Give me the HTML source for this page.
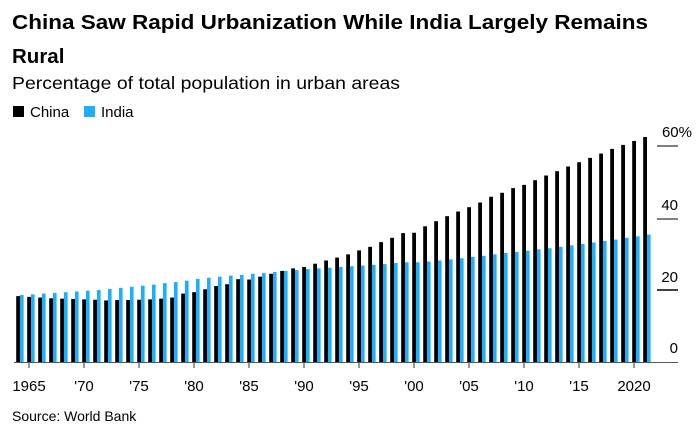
<!DOCTYPE html>
<html><head><meta charset="utf-8"><style>
body{margin:0;background:#fff;width:699px;height:442px;overflow:hidden}
svg{display:block;font-family:"Liberation Sans",Arial,sans-serif}
</style></head><body>
<svg id="s" width="699" height="442" xmlns="http://www.w3.org/2000/svg">
<text x="12" y="29" font-size="20.5" font-weight="bold" fill="#000" textLength="636" lengthAdjust="spacingAndGlyphs">China Saw Rapid Urbanization While India Largely Remains</text>
<text x="12" y="63" font-size="20.5" font-weight="bold" fill="#000">Rural</text>
<text x="12" y="89" font-size="17.5" fill="#000" textLength="388" lengthAdjust="spacingAndGlyphs">Percentage of total population in urban areas</text>
<rect x="13" y="106" width="11" height="11" fill="#000"/>
<text x="30" y="117" font-size="15" fill="#000">China</text>
<rect x="84" y="106" width="11" height="11" fill="#1ab0ff"/>
<text x="101" y="117" font-size="15" fill="#000">India</text>
<g font-size="15" fill="#000" text-anchor="end">
<text x="692" y="137">60%</text>
<text x="678" y="210">40</text>
<text x="678" y="282">20</text>
<text x="678" y="353">0</text>
</g>
<g stroke-width="1.5">
<line x1="657" x2="678" y1="146" y2="146" stroke="#555"/>
<line x1="657" x2="678" y1="219" y2="219" stroke="#555"/>
<line x1="657" x2="678" y1="290" y2="290" stroke="#000"/>
</g>
<g id="bars"></g>
<line x1="14" x2="678" y1="362.5" y2="362.5" stroke="#555" stroke-width="1"/>
<g id="ticks" stroke="#555" stroke-width="1.2"></g>
<g font-size="15" fill="#000" text-anchor="middle">
<text x="29" y="391">1965</text><text x="84" y="391">'70</text><text x="139" y="391">'75</text>
<text x="194" y="391">'80</text><text x="249" y="391">'85</text><text x="304" y="391">'90</text>
<text x="359" y="391">'95</text><text x="414" y="391">'00</text><text x="469" y="391">'05</text>
<text x="524" y="391">'10</text><text x="579" y="391">'15</text><text x="634" y="391">2020</text>
</g>
<text x="12" y="421" font-size="14" fill="#000">Source: World Bank</text>
</svg>
<script>
var c=[18.3,18.1,17.9,17.7,17.6,17.5,17.4,17.3,17.1,17.2,17.2,17.3,17.4,17.6,17.9,19.0,19.4,20.2,21.1,21.6,23.0,22.9,23.7,24.5,25.3,26.0,26.4,27.3,28.2,29.0,29.9,31.0,32.0,33.3,34.5,35.8,35.9,37.7,39.1,40.5,41.8,43.0,44.3,45.9,47.0,48.3,49.2,50.5,51.8,53.0,54.3,55.5,56.7,57.9,59.2,60.3,61.4,62.5];
var d=[18.6,18.8,19.0,19.2,19.4,19.6,19.8,20.0,20.3,20.6,20.9,21.2,21.5,21.9,22.2,22.6,23.1,23.4,23.7,24.0,24.2,24.5,24.7,25.0,25.3,25.5,25.8,26.0,26.2,26.4,26.6,26.8,27.0,27.2,27.5,27.7,27.7,27.9,28.2,28.5,28.8,29.2,29.5,29.9,30.3,30.6,30.9,31.3,31.6,32.0,32.4,32.8,33.2,33.6,34.0,34.5,34.9,35.4];
var g=document.getElementById('bars'),h='';
for(var i=0;i<c.length;i++){var x=29+(i-1)*11-1.8;
var hc=c[i]*3.6,hd=d[i]*3.6;
h+='<rect x="'+x+'" y="'+(362-hc)+'" width="3.8" height="'+hc+'" fill="#000"/>';
h+='<rect x="'+(x+3.8)+'" y="'+(362-hd)+'" width="3.6" height="'+hd+'" fill="#1ab0ff"/>';}
g.innerHTML=h;
var t='';for(var k=0;k<12;k++){var xx=29+k*55;t+='<line x1="'+xx+'" x2="'+xx+'" y1="362" y2="368"/>';}
document.getElementById('ticks').innerHTML=t;
</script>
</body></html>
